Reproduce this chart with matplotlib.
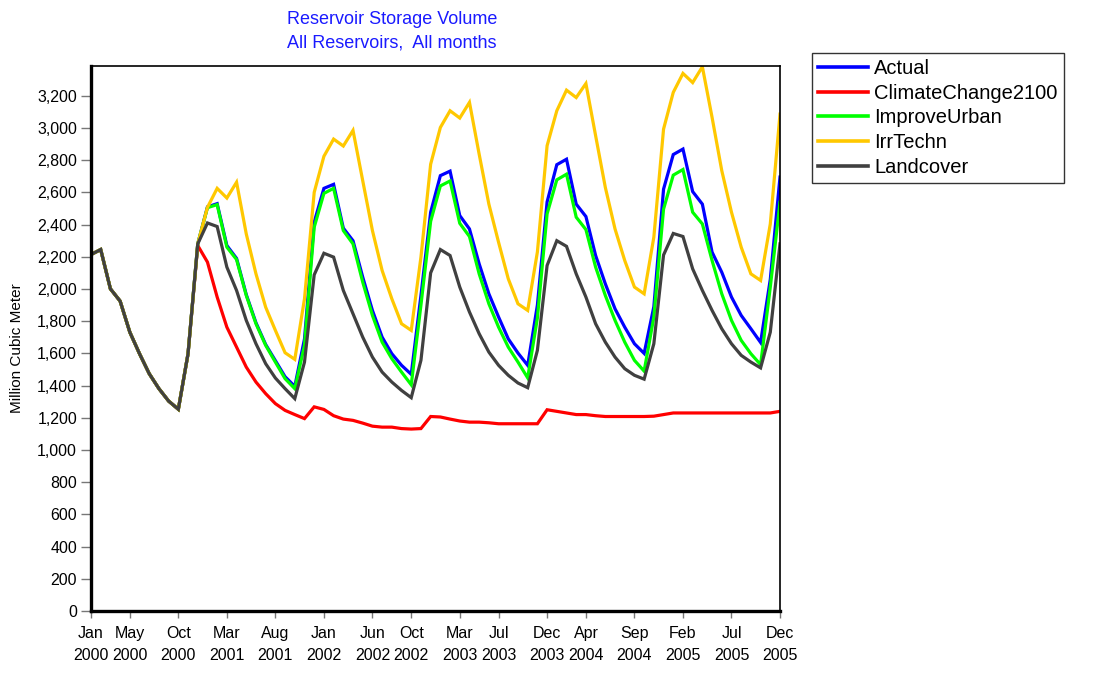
import numpy as np
import matplotlib
matplotlib.use("Agg")
import matplotlib.pyplot as plt
from matplotlib import font_manager
from matplotlib.ticker import FuncFormatter

# monthly values, Jan 2000 .. Dec 2005 (million cubic meter)
start = [2214, 2245, 2001, 1925, 1732, 1598, 1474, 1381, 1304, 1253, 1598, 2280]

actual = start + [
    2510, 2530, 2270, 2190, 1965, 1790, 1655, 1555, 1455, 1395, 1690,
    2415, 2625, 2650, 2378, 2300, 2074, 1867, 1701, 1598, 1526, 1470, 1960,
    2477, 2704, 2732, 2456, 2373, 2156, 1970, 1826, 1690, 1602, 1526, 1900,
    2541, 2772, 2806, 2527, 2450, 2208, 2032, 1877, 1763, 1660, 1600, 1890,
    2620, 2835, 2869, 2605, 2527, 2229, 2104, 1950, 1836, 1753, 1668, 2060,
    2695]
climate = start[:11] + [2270,
    2167, 1950, 1763, 1639, 1515, 1422, 1350, 1288, 1246, 1220, 1195,
    1268, 1252, 1213, 1192, 1184, 1167, 1148, 1142, 1142, 1133, 1130, 1133,
    1208, 1205, 1192, 1180, 1173, 1173, 1169, 1163, 1163, 1163, 1163, 1163,
    1250, 1240, 1230, 1220, 1220, 1213, 1208, 1208, 1208, 1208, 1208, 1210,
    1220, 1230, 1230, 1230, 1230, 1230, 1230, 1230, 1230, 1230, 1230, 1230,
    1240]
improve = start + [
    2505, 2524, 2260, 2183, 1960, 1784, 1650, 1546, 1443, 1381, 1650,
    2384, 2594, 2625, 2363, 2280, 2043, 1836, 1670, 1567, 1484, 1405, 1900,
    2420, 2640, 2671, 2408, 2326, 2094, 1908, 1763, 1639, 1546, 1448, 1820,
    2467, 2678, 2713, 2446, 2369, 2136, 1960, 1805, 1670, 1557, 1490, 1826,
    2496, 2707, 2742, 2477, 2404, 2177, 1970, 1805, 1681, 1598, 1530, 2012,
    2538]
irrtechn = start + [
    2507, 2625, 2565, 2663, 2342, 2094, 1887, 1743, 1604, 1563, 1939,
    2600, 2824, 2931, 2888, 2985, 2673, 2363, 2115, 1939, 1784, 1743, 2198,
    2775, 3003, 3107, 3062, 3159, 2837, 2527, 2290, 2063, 1908, 1867, 2230,
    2890, 3107, 3235, 3189, 3276, 2952, 2631, 2373, 2177, 2012, 1970, 2322,
    2993, 3221, 3339, 3282, 3380, 3066, 2735, 2477, 2260, 2094, 2053, 2404,
    3086]
landcover = start + [
    2410, 2388, 2136, 1991, 1805, 1660, 1536, 1447, 1381, 1319, 1546,
    2088, 2222, 2198, 1991, 1846, 1701, 1577, 1484, 1422, 1370, 1325, 1557,
    2100, 2245, 2208, 2012, 1857, 1722, 1608, 1526, 1464, 1416, 1387, 1619,
    2146, 2300, 2265, 2094, 1950, 1784, 1670, 1577, 1505, 1464, 1440, 1660,
    2211, 2345, 2326, 2125, 1991, 1867, 1753, 1660, 1588, 1546, 1510, 1732,
    2280]

series_names = ["Actual", "ClimateChange2100", "ImproveUrban", "IrrTechn", "Landcover"]
series_colors = ["#0000FF", "#FF0000", "#00FF00", "#FFC800", "#404040"]

tick_months = [0, 4, 9, 14, 19, 24, 29, 33, 38, 42, 47, 51, 56, 61, 66, 71]
tick_labels = ["Jan\n2000", "May\n2000", "Oct\n2000", "Mar\n2001", "Aug\n2001",
               "Jan\n2002", "Jun\n2002", "Oct\n2002", "Mar\n2003", "Jul\n2003",
               "Dec\n2003", "Apr\n2004", "Sep\n2004", "Feb\n2005", "Jul\n2005",
               "Dec\n2005"]

names = {f.name for f in font_manager.fontManager.ttflist}
narrow = "Liberation Sans Narrow" if "Liberation Sans Narrow" in names else "Liberation Sans"
plt.rcParams["font.family"] = ["Liberation Sans", "DejaVu Sans"]

months = np.arange(len(actual))

fig = plt.figure(figsize=(11.05, 6.75), dpi=100)
ax = fig.add_axes([91/1105, 1-611/675, (780-91)/1105, (611-66)/675])

for vals, name, col in zip([actual, climate, improve, irrtechn, landcover],
                           series_names, series_colors):
    ax.plot(months, vals, color=col, lw=2.3, label=name, solid_joinstyle="miter")

ax.set_xlim(0, 71)
ax.set_ylim(0, 3385)
ax.set_yticks(np.arange(0, 3201, 200))
ax.yaxis.set_major_formatter(FuncFormatter(lambda v, p: f"{int(v):,}"))
ax.set_xticks(tick_months)
ax.set_xticklabels(tick_labels, family=narrow, fontsize=11.5, linespacing=1.6)
ax.tick_params(axis="y", labelsize=11.5, length=7, width=1, color="#777777", direction="out", pad=3)
ax.tick_params(axis="x", length=5, width=1, color="#777777", direction="out", pad=6)

for side in ["left", "bottom"]:
    ax.spines[side].set_linewidth(2.4)
for side in ["top", "right"]:
    ax.spines[side].set_linewidth(1.2)

fig.text(17/1105, 1-348/675, "Million Cubic Meter", rotation=90, fontsize=11,
         ha="center", va="center")
fig.text(392/1105, 1-19/675, "Reservoir Storage Volume", color="#1a1aff",
         fontsize=13, ha="center", va="center")
fig.text(392/1105, 1-43/675, "All Reservoirs,  All months", color="#1a1aff",
         fontsize=13, ha="center", va="center")

leg = ax.legend(loc="upper left", bbox_to_anchor=(812/1105, 1-53/675),
                bbox_transform=fig.transFigure, fontsize=14.5, frameon=True,
                fancybox=False, edgecolor="black", borderaxespad=0,
                handlelength=2.5, handletextpad=0.3, labelspacing=0.28,
                borderpad=0.3)
leg.get_frame().set_linewidth(1.0)
for h in leg.get_lines():
    h.set_linewidth(2.6)

fig.savefig("out.png", dpi=100)
